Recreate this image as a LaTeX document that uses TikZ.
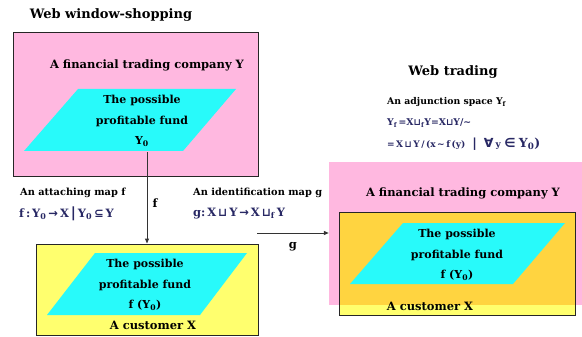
\documentclass[tikz,border=0pt]{standalone}
\usepackage{fontspec}
\setmainfont{DejaVu Serif}
\newfontfamily\symf{DejaVu Sans}
\usetikzlibrary{arrows.meta}
\definecolor{pinkbg}{RGB}{255,184,224}
\definecolor{cyanbg}{RGB}{40,250,250}
\definecolor{yelbg}{RGB}{255,255,110}
\definecolor{goldbg}{RGB}{255,212,64}
\definecolor{navy}{RGB}{40,40,100}
\newcommand{\sy}[1]{{\symf\bfseries #1}}
\begin{document}
\begin{tikzpicture}[x=1pt,y=-1pt,
  boxline/.style={draw=black!85, line width=1pt},
  para/.style={fill=cyanbg},
  maintext/.style={font=\fontsize{11.5}{13}\selectfont\bfseries, inner sep=0pt},
  titletext/.style={font=\fontsize{13}{15}\selectfont\bfseries, inner sep=0pt},
  fundtext/.style={font=\fontsize{11}{20.5}\selectfont\bfseries, align=center, inner sep=0pt},
  smalltext/.style={font=\fontsize{9.8}{11}\selectfont\bfseries, inner sep=0pt, anchor=west},
  mathtext/.style={font=\fontsize{11.5}{12}\selectfont\bfseries, text=navy, inner sep=0pt, anchor=west},
  conn/.style={line width=1pt, draw=black!80, -{Triangle[length=5pt,width=4pt]}}
]
\useasboundingbox (0,0) rectangle (582,337);
\fill[white] (0,0) rectangle (582,337);

% ---------- left: web window-shopping ----------
\node[titletext] (title1) at (111,15) {Web window-shopping};
\node[boxline, fill=pinkbg, minimum width=245pt, minimum height=144pt, inner sep=0pt] (pink1) at (135.5,105) {};
\node[maintext] (comp1) at (147,65) {A financial trading company Y};
\fill[para] (78,89) -- (236,89) -- (183,151) -- (24,151) -- cycle;
\node[fundtext, minimum height=62pt] (p1) at (142,121) {The possible\\profitable fund\\Y\textsubscript{0}};

\node[boxline, fill=yelbg, minimum width=222pt, minimum height=91pt, inner sep=0pt] (yel1) at (147,289.5) {};
\fill[para] (95,253) -- (247,253) -- (200,315) -- (47,315) -- cycle;
\node[fundtext, minimum height=62pt] (p2) at (145,285) {The possible\\profitable fund\\f (Y\textsubscript{0})};
\node[maintext] (cust1) at (153,325) {A customer X};

\draw[conn] (p1.south -| yel1.north) -- (yel1.north);
\node[maintext] (flab) at (155,203) {f};

\node[smalltext] (att1) at (20,193) {An attaching map f};
\node[mathtext] (att2) at (19,214) {f\,:\,Y\textsubscript{0}\,\sy{→}\,X\,{\fontsize{14}{14}\selectfont\sy{|}}\,Y\textsubscript{0}\,\sy{⊆}\,Y};
\node[smalltext] (id1) at (193,193) {An identification map g};
\node[mathtext] (id2) at (193,214) {g:\,X\,\sy{⊔}\,Y\,\sy{→}\,X\,\sy{⊔}\textsubscript{f}\,Y};

% ---------- right: web trading ----------
\node[titletext] (title2) at (453,72) {Web trading};
\node[smalltext, font=\fontsize{9.3}{11}\selectfont\bfseries] (adj1) at (387,102) {An adjunction space Y\textsubscript{f}};
\node[mathtext, font=\fontsize{9.3}{11}\selectfont\bfseries] (adj2) at (387,123) {Y\textsubscript{f}\,=X\sy{⊔}\textsubscript{f}Y=X\sy{⊔}Y/\sy{∼}};
\node[mathtext, font=\fontsize{12.5}{13}\selectfont\bfseries] (adj3) at (387,144) {{\fontsize{9}{9}\selectfont =\,X\,\sy{⊔}\,Y\,/\,(x\,\sy{∼}\,f\,(y)}\;\;\sy{|}\;\;\sy{∀}\,{\fontsize{9}{9}\selectfont y}\;\sy{∈}\;Y\textsubscript{0})};

\node[fill=pinkbg, minimum width=253pt, minimum height=143pt, inner sep=0pt] (pink2) at (455.5,233.5) {};
\node[maintext] (comp2) at (463,193) {A financial trading company Y};
\node[fill=yelbg, minimum width=235pt, minimum height=102pt, inner sep=0pt] (yel2) at (457.5,264) {};
\fill[goldbg] (yel2.north west) rectangle (yel2.east |- pink2.south);
\draw[boxline] (yel2.north west) rectangle (yel2.south east);
\fill[para] (403,223) -- (565,223) -- (513,284) -- (350,284) -- cycle;
\node[fundtext, minimum height=62pt] (p3) at (457,255) {The possible\\profitable fund\\f (Y\textsubscript{0})};
\node[maintext] (cust2) at (430,306) {A customer X};

\coordinate (gstart) at (257,233);
\draw[conn] (gstart) -- (gstart -| pink2.west);
\node[maintext] (glab) at (293,247) {g};
\end{tikzpicture}
\end{document}
